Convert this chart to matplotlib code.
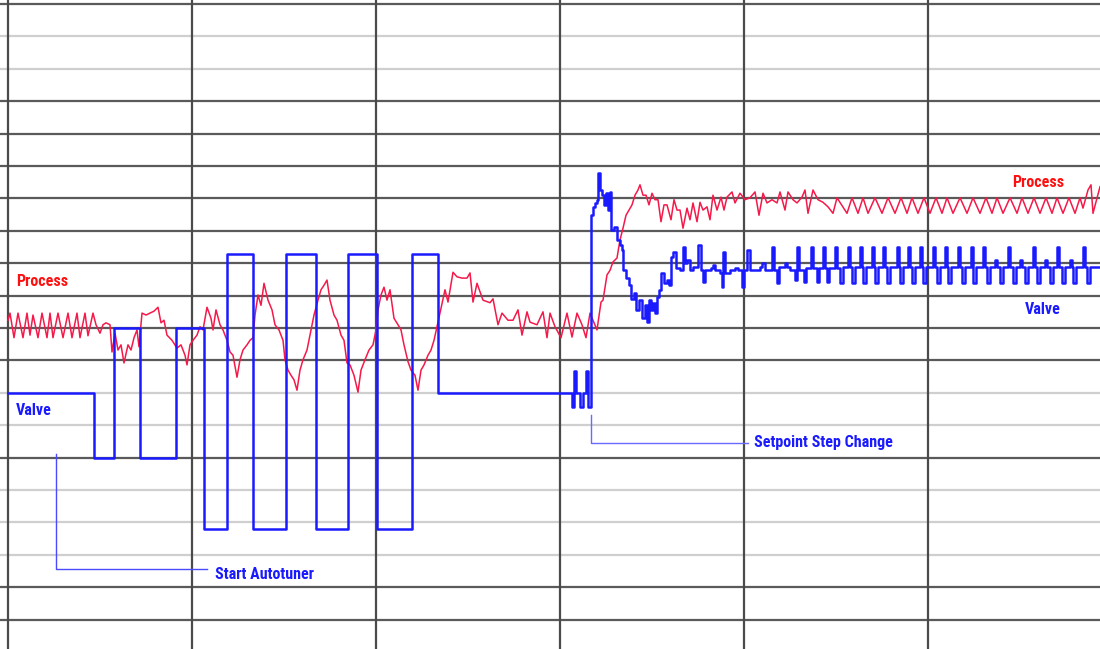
import matplotlib
matplotlib.use("Agg")
import matplotlib.pyplot as plt

# process variable: (time s, percent)
process = [
    (0, 51.2), (2, 52.3), (6, 48.5), (10, 52.3), (15, 48.5), (19, 52.3), (22, 48.9), (25, 52.0),
    (30, 48.5), (34, 52.3), (39, 48.5), (42, 52.3), (45, 48.5), (50, 52.3), (55, 48.5), (60, 52.3),
    (64, 48.5), (69, 52.3), (72, 48.5), (77, 52.3), (80, 48.8), (85, 52.3), (88, 50.5), (92, 49.2),
    (95, 50.5), (98, 50.8), (102, 50.5), (104, 46.3), (107, 49.2), (110, 46.6), (113, 47.4),
    (116, 44.6), (120, 47.4), (123, 46.6), (126, 48.5), (129, 49.7), (131, 47.1), (134, 52.3),
    (138, 52.0), (142, 52.3), (146, 52.6), (150, 53.2), (153, 50.8), (156, 51.2), (159, 48.9),
    (164, 48.1), (169, 46.9), (173, 47.4), (177, 45.8), (179, 44.3), (182, 47.4), (185, 48.1),
    (189, 48.9), (192, 50.2), (195, 49.7), (199, 53.2), (203, 51.5), (205, 49.7), (208, 52.8),
    (212, 50.5), (215, 49.7), (219, 48.1), (222, 46.3), (225, 45.8), (229, 42.4), (232, 45.1),
    (235, 46.6), (239, 47.4), (242, 48.1), (245, 48.5), (247, 52.0), (250, 55.1), (253, 53.5),
    (256, 56.9), (260, 54.3), (264, 52.8), (267, 50.5), (271, 49.7), (275, 48.1), (277, 45.1),
    (280, 43.5), (283, 42.7), (286, 42.0), (289, 40.4), (292, 43.5), (295, 45.1), (299, 46.6),
    (303, 49.7), (306, 52.0), (310, 54.3), (313, 55.9), (316, 56.6), (319, 57.4), (322, 54.3),
    (326, 52.0), (329, 51.2), (333, 48.9), (336, 48.1), (339, 44.6), (342, 44.3), (346, 42.7),
    (350, 40.1), (353, 43.5), (357, 45.1), (361, 46.6), (365, 47.4), (368, 49.7), (370, 52.8),
    (373, 55.1), (376, 56.3), (379, 54.3), (382, 55.9), (386, 51.5), (390, 50.5), (393, 49.7),
    (396, 47.4), (400, 44.8), (403, 43.5), (407, 42.7), (410, 40.4), (413, 43.5), (416, 44.3),
    (420, 45.8), (423, 46.6), (426, 48.1), (430, 50.9), (437, 55.9), (440, 54.0), (445, 58.6),
    (449, 57.9), (454, 57.7), (459, 57.7), (462, 58.5), (465, 54.0), (469, 56.9), (475, 54.3),
    (482, 53.9), (485, 54.5), (490, 50.5), (494, 52.3), (500, 51.2), (505, 51.2), (510, 52.8),
    (514, 48.9), (519, 52.5), (522, 50.9), (529, 50.5), (535, 52.5), (539, 48.5), (542, 52.3),
    (547, 50.2), (553, 48.5), (559, 52.3), (564, 48.6), (569, 52.3), (574, 50.5), (578, 48.5),
    (582, 52.3), (585, 51.2), (589, 49.7), (593, 54.0), (595, 54.3), (599, 58.2), (602, 58.9),
    (605, 60.2), (609, 60.8), (612, 63.6), (615, 65.4), (618, 67.4), (621, 68.2), (624, 69.0),
    (627, 70.5), (630, 71.3), (632, 72.1), (635, 70.5), (638, 70.5), (641, 69.0), (644, 70.8),
    (647, 69.8), (650, 69.8), (653, 66.4), (656, 69.0), (659, 69.0), (663, 66.7), (666, 69.8),
    (669, 68.2), (672, 68.2), (675, 65.4), (679, 68.5), (682, 66.7), (685, 69.3), (689, 66.4),
    (692, 69.4), (695, 68.2), (699, 68.7), (702, 66.7), (705, 70.5), (709, 68.2), (713, 70.2),
    (716, 68.2), (719, 70.2), (724, 71.0), (727, 69.3), (732, 70.8), (737, 69.8), (742, 70.1),
    (747, 71.0), (751, 67.4), (755, 70.8), (759, 69.3), (764, 69.8), (769, 69.3), (772, 71.0),
    (777, 68.2), (780, 71.0), (785, 69.8), (789, 69.3), (794, 70.2), (797, 71.3), (800, 67.7),
    (805, 71.3), (810, 69.8), (815, 69.4), (820, 68.7), (825, 67.7), (829, 70.1), (839, 67.7),
    (844, 70.1), (850, 67.7), (855, 70.1), (860, 67.7), (867, 70.1), (874, 67.7), (880, 70.1),
    (887, 67.7), (893, 70.1), (899, 67.7), (904, 70.1), (910, 67.7), (916, 70.1), (922, 67.7),
    (928, 70.1), (934, 67.7), (939, 70.1), (945, 67.7), (952, 70.1), (959, 67.7), (965, 70.1),
    (972, 67.7), (978, 70.1), (984, 67.7), (989, 70.1), (995, 67.7), (1002, 70.1), (1009, 67.7),
    (1014, 70.1), (1020, 67.7), (1026, 70.1), (1032, 67.7), (1038, 70.1), (1044, 67.7),
    (1049, 70.1), (1055, 67.7), (1061, 70.1), (1067, 67.7), (1072, 70.1), (1075, 68.5),
    (1080, 71.3), (1083, 72.1), (1085, 67.7), (1092, 71.8),
]

# valve output, held until next change: (time s, percent)
valve = [
    (0, 40.0), (86, 30.0), (106, 50.0), (132, 30.0), (168, 50.0), (196, 19.0), (219, 61.4),
    (245, 19.0), (278, 61.4), (308, 19.0), (340, 61.4), (369, 19.0), (404, 61.4), (430, 40.0),
    (564, 37.8), (566, 43.4), (568, 40.0), (572, 37.8), (575, 40.0), (578, 43.4), (580, 37.8),
    (583, 67.4), (585, 68.7), (587, 69.3), (589, 69.8), (590, 73.9), (592, 71.3), (594, 70.5),
    (596, 69.0), (598, 70.8), (600, 68.2), (602, 71.0), (603, 65.1), (606, 65.6), (609, 63.6),
    (612, 62.8), (614, 62.0), (615, 58.9), (618, 57.7), (621, 56.6), (623, 54.5), (626, 55.4),
    (628, 52.8), (631, 54.3), (634, 51.5), (637, 53.5), (639, 50.9), (641, 54.3), (643, 52.8),
    (645, 53.9), (647, 52.3), (649, 54.8), (651, 55.9), (653, 58.5), (656, 56.9), (659, 57.4),
    (661, 56.6), (663, 61.0), (665, 61.7), (668, 59.3), (672, 58.9), (675, 62.5), (677, 60.0),
    (679, 60.5), (682, 58.9), (685, 59.4), (690, 62.8), (693, 58.9), (695, 57.1), (697, 58.9),
    (703, 59.3), (705, 59.7), (707, 58.9), (712, 58.5), (714, 56.3), (715, 61.7), (717, 58.5),
    (722, 58.9), (727, 59.3), (730, 58.9), (734, 56.3), (736, 58.9), (739, 62.0), (742, 58.9),
    (752, 59.4), (754, 60.0), (757, 58.9), (764, 62.5), (766, 58.9), (769, 56.9), (771, 59.4),
    (777, 60.0), (779, 59.4), (782, 58.9), (787, 57.4), (789, 62.5), (791, 58.9), (796, 57.1),
    (798, 59.3), (803, 62.5), (805, 59.3), (809, 57.1), (811, 59.3), (815, 62.5), (817, 59.3),
    (819, 57.1), (821, 59.3), (827, 62.5), (829, 59.3), (832, 56.9), (835, 59.4), (840, 62.5),
    (842, 59.4), (844, 56.9), (847, 59.4), (852, 62.5), (854, 59.4), (855, 56.9), (858, 59.4),
    (864, 62.5), (866, 59.4), (867, 56.9), (870, 59.4), (875, 62.5), (877, 59.4), (879, 56.9),
    (882, 59.4), (889, 62.5), (891, 59.4), (892, 56.9), (895, 59.4), (900, 62.5), (902, 59.4),
    (904, 56.9), (907, 59.4), (912, 62.5), (914, 59.4), (915, 56.9), (918, 59.4), (925, 62.5),
    (927, 59.4), (929, 56.9), (932, 59.4), (937, 62.5), (939, 59.4), (940, 56.9), (943, 59.4),
    (950, 62.5), (952, 59.4), (954, 56.9), (957, 59.4), (963, 62.5), (965, 56.9), (968, 59.4),
    (975, 62.5), (977, 59.4), (979, 56.9), (982, 59.4), (987, 60.5), (989, 59.4), (992, 56.9),
    (995, 59.4), (1000, 62.5), (1002, 59.4), (1005, 56.9), (1008, 59.4), (1012, 60.5),
    (1014, 59.4), (1017, 56.9), (1020, 59.4), (1025, 62.5), (1027, 59.4), (1029, 56.9),
    (1032, 59.4), (1037, 60.5), (1039, 59.4), (1042, 56.9), (1045, 59.4), (1049, 62.5),
    (1051, 59.4), (1054, 56.9), (1057, 59.4), (1062, 60.5), (1064, 59.4), (1065, 56.9),
    (1068, 59.4), (1075, 62.5), (1077, 59.4), (1079, 56.9), (1082, 59.4), (1092, 59.4),
]

grid_levels = [100, 95, 90, 85, 80, 75, 70, 65, 60, 55, 50, 45, 40, 35, 30, 25, 20, 15, 10, 5]
grid_dark = [True, False, False, True, True, True, True, True, True, True, True, True,
             False, False, True, False, False, False, True, True]
div_times = [0, 184, 368, 552, 736, 920]

RED = "#f5194a"
BLUE = "#1a1aff"
font = ["Roboto Condensed", "Liberation Sans Narrow", "Roboto", "DejaVu Sans"]

fig = plt.figure(figsize=(11, 6.49), dpi=100)
ax = fig.add_axes([0, 0, 1, 1])
ax.set_xlim(-8, 1092)
ax.set_ylim(0.46, 100.62)
ax.axis("off")

for lev, dark in zip(grid_levels, grid_dark):
    ax.axhline(lev, color="#5a5a5a" if dark else "#cfcfcf", lw=1.6, zorder=1)
for d in div_times:
    ax.axvline(d, color="#4a4a4a", lw=1.6, zorder=1)

pt = [p[0] for p in process]
pv = [p[1] for p in process]
vt = [v[0] for v in valve]
vv = [v[1] for v in valve]
ax.plot(pt, pv, color=RED, lw=1.1, zorder=3)
ax.step(vt, vv, where="post", color=BLUE, lw=1.8, zorder=4)

# annotation leaders
ax.plot([48, 48, 199], [30.6, 12.8, 12.8], color="#4a4aff", lw=1.0, zorder=2)
ax.plot([583, 583, 740], [36.6, 32.3, 32.3], color="#6a6aff", lw=1.0, zorder=2)

kw = dict(family=font, weight="bold", fontsize=11.5, va="center", ha="left", zorder=5)
ax.text(8, 57.2, "Process", color="#ff1010", **kw)
ax.text(8, 37.3, "Valve", color=BLUE, **kw)
ax.text(1004, 72.5, "Process", color="#ff1010", **kw)
ax.text(1017, 52.8, "Valve", color=BLUE, **kw)
ax.text(207, 12.0, "Start Autotuner", color=BLUE, **kw)
ax.text(746, 32.3, "Setpoint Step Change", color=BLUE, **kw)

fig.savefig("out.png", dpi=100)
